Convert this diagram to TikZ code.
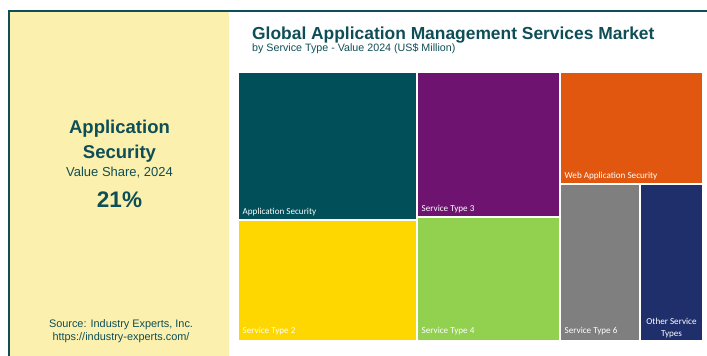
\documentclass[tikz,border=0pt]{standalone}
\usepackage{fontspec}
\setmainfont{Liberation Sans}
\newfontfamily\tilefont{Carlito}
\usepackage{xcolor}
\usepackage{tikz}
\usetikzlibrary{positioning}
\definecolor{tealtext}{RGB}{14,78,86}
\definecolor{panelyellow}{RGB}{252,240,174}
\definecolor{appseccolor}{RGB}{0,79,89}
\definecolor{typetwocolor}{RGB}{254,215,0}
\definecolor{typethreecolor}{RGB}{110,20,112}
\definecolor{typefourcolor}{RGB}{146,208,80}
\definecolor{webappcolor}{RGB}{226,87,15}
\definecolor{typesixcolor}{RGB}{127,127,127}
\definecolor{othercolor}{RGB}{31,47,108}

\begin{document}
\begin{tikzpicture}[
    x=1pt, y=-1pt,
    tile/.style={anchor=north west, inner sep=0pt, outer sep=0pt},
    tilelabel/.style={anchor=base west, text=white, inner sep=0pt, font=\tilefont\fontsize{9.1}{10}\selectfont},
    paneltext/.style={anchor=base, text=tealtext, inner sep=0pt}
]
    \useasboundingbox (0,0) rectangle (707,356);

    % Left panel
    \fill[panelyellow] (10,11) rectangle (229,356);
    \draw[tealtext, line width=2pt] (9,356) -- (9,11) -- (707,11);

    \node[paneltext, font=\bfseries\fontsize{18.5}{20}\selectfont] (headA) at (119.5,133) {Application};
    \node[paneltext, font=\bfseries\fontsize{18.5}{20}\selectfont] (headB) at (119.5,158) {Security};
    \node[paneltext, font=\fontsize{13}{15}\selectfont] (share) at (119.5,176) {Value Share, 2024};
    \node[paneltext, font=\bfseries\fontsize{22.5}{24}\selectfont] (pct) at (119.5,207) {21\%};

    \node[paneltext, font=\fontsize{10.9}{12}\selectfont] (srcA) at (121,327) {Source: Industry Experts, Inc.};
    \node[paneltext, font=\fontsize{10.9}{12}\selectfont] (srcB) at (121,340) {https://industry-experts.com/};

    % Title
    \node[anchor=base west, text=tealtext, inner sep=0pt, font=\bfseries\fontsize{17.4}{19}\selectfont] (title) at (252,39) {Global Application Management Services Market};
    \node[anchor=base west, text=tealtext, inner sep=0pt, font=\fontsize{10.7}{12}\selectfont] (subtitle) at (252,51.5) {by Service Type - Value 2024 (US\$ Million)};

    % Treemap tiles
    \node[tile, fill=appseccolor, minimum width=177pt, minimum height=146pt] (appsec) at (239,73) {};
    \node[tile, fill=typetwocolor, minimum width=177pt, minimum height=119pt] (typetwo) at (239,221) {};
    \node[tile, fill=typethreecolor, minimum width=141pt, minimum height=143pt] (typethree) at (418,73) {};
    \node[tile, fill=typefourcolor, minimum width=141pt, minimum height=122pt] (typefour) at (418,218) {};
    \node[tile, fill=webappcolor, minimum width=141pt, minimum height=110pt] (webapp) at (561,73) {};
    \node[tile, fill=typesixcolor, minimum width=78pt, minimum height=155pt] (typesix) at (561,185) {};
    \node[tile, fill=othercolor, minimum width=61pt, minimum height=155pt] (other) at (641,185) {};

    % Tile labels
    \node[tilelabel] (appseclbl) at ([shift={(3.5,-5)}]appsec.south west) {Application Security};
    \node[tilelabel] (typetwolbl) at ([shift={(3.5,-7)}]typetwo.south west) {Service Type 2};
    \node[tilelabel] (typethreelbl) at ([shift={(3.5,-5)}]typethree.south west) {Service Type 3};
    \node[tilelabel] (typefourlbl) at ([shift={(3.5,-7)}]typefour.south west) {Service Type 4};
    \node[tilelabel] (webapplbl) at ([shift={(3.5,-5)}]webapp.south west) {Web Application Security};
    \node[tilelabel] (typesixlbl) at ([shift={(3.5,-7)}]typesix.south west) {Service Type 6};
    \node[tilelabel, anchor=south, align=center, font=\tilefont\fontsize{9.1}{11.5}\selectfont] (otherlbl) at ([yshift=2pt]other.south) {Other Service\\Types};
\end{tikzpicture}
\end{document}
